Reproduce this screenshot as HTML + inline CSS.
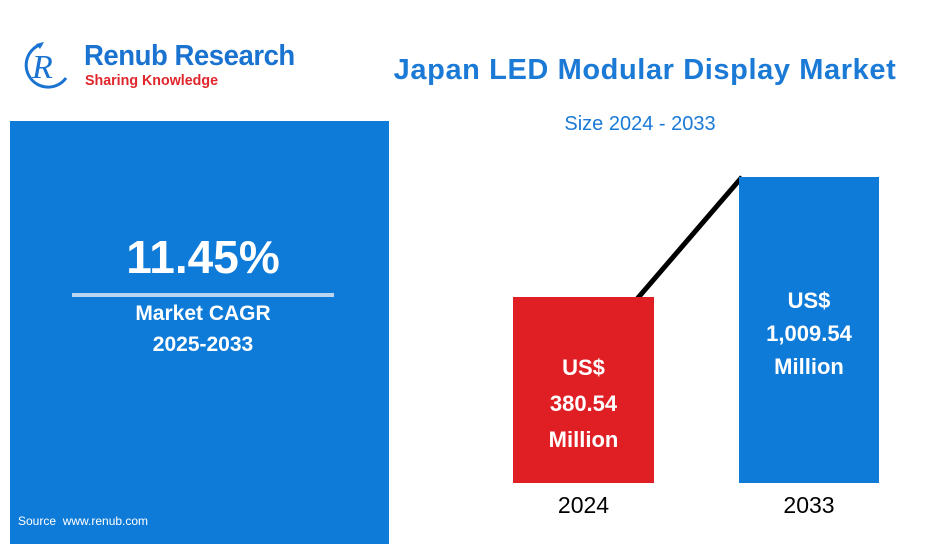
<!DOCTYPE html>
<html><head><style>
body{margin:0;width:931px;height:544px;background:#fff;position:relative;overflow:hidden;font-family:"Liberation Sans",sans-serif}
.a{position:absolute}
.w{color:#fff;font-weight:bold;text-align:center}
</style></head><body>
<svg class="a" style="left:22px;top:38px" width="50" height="52" viewBox="0 0 50 52">
<path d="M20 6 A22 22 0 1 0 44 40" fill="none" stroke="#1a73d0" stroke-width="3"/>
<path d="M14 6 L22 4 L18 11 Z" fill="#1a73d0"/>
<text x="10" y="40" font-family="Liberation Serif" font-size="34" fill="#1a73d0" font-style="italic">R</text>
</svg>
<div class="a" style="left:84px;top:40px;font-size:29px;font-weight:bold;color:#1a73d0;transform:scaleX(0.95);transform-origin:left;letter-spacing:-0.5px">Renub Research</div>
<div class="a" style="left:85px;top:72px;font-size:15px;font-weight:bold;color:#e0262b;transform:scaleX(0.95);transform-origin:left">Sharing Knowledge</div>
<div class="a" style="left:370px;top:54px;width:550px;font-size:29px;font-weight:bold;color:#1a7ad6;text-align:center;letter-spacing:0.6px">Japan LED Modular Display Market</div>
<div class="a" style="left:500px;top:113px;width:280px;font-size:20px;color:#1a7ad6;text-align:center">Size 2024 - 2033</div>
<div class="a" style="left:10px;top:121px;width:379px;height:423px;background:#0f7bd8"></div>
<div class="a w" style="left:72px;top:230px;width:262px;font-size:46px">11.45%</div>
<div class="a" style="left:72px;top:293px;width:262px;height:4px;background:#b8d6f2"></div>
<div class="a w" style="left:72px;top:298px;width:262px;font-size:21px;line-height:31px">Market CAGR<br>2025-2033</div>
<div class="a" style="left:18px;top:514px;font-size:12px;color:#fff">Source&nbsp; www.renub.com</div>
<svg class="a" style="left:0;top:0" width="931" height="544"><line x1="637" y1="299" x2="742" y2="177" stroke="#000" stroke-width="5"/></svg>
<div class="a" style="left:513px;top:297px;width:141px;height:186px;background:#e01f25"></div>
<div class="a" style="left:739px;top:177px;width:140px;height:306px;background:#0f7bd8"></div>
<div class="a w" style="left:513px;top:350px;width:141px;font-size:22px;line-height:36px">US$<br>380.54<br>Million</div>
<div class="a w" style="left:739px;top:284px;width:140px;font-size:22px;line-height:33px">US$<br>1,009.54<br>Million</div>
<div class="a" style="left:513px;top:492px;width:141px;text-align:center;font-size:23px">2024</div>
<div class="a" style="left:739px;top:492px;width:140px;text-align:center;font-size:23px">2033</div>
</body></html>
